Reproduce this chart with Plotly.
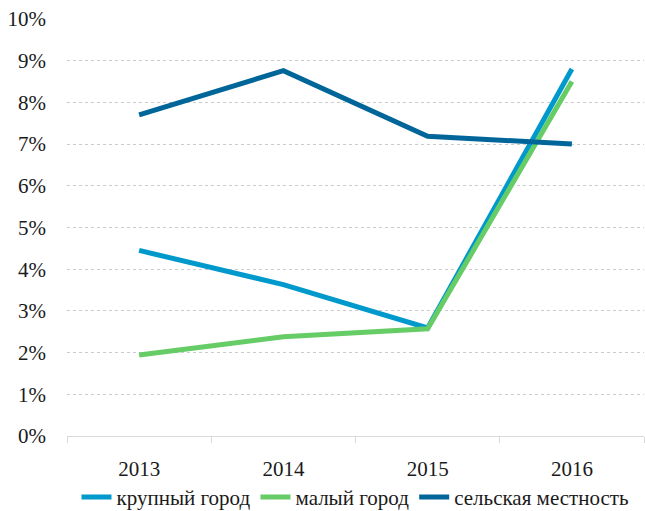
import plotly.graph_objects as go

# Share of respondents by settlement type, 2013-2016 (percent)
years = ["2013", "2014", "2015", "2016"]
large_city = [4.45, 3.63, 2.59, 8.80]
small_city = [1.94, 2.38, 2.57, 8.50]
rural = [7.70, 8.76, 7.19, 7.00]

series_names = ["крупный город", "малый город", "сельская местность"]
series_colors = ["#0099CC", "#66CC66", "#006699"]
y_ticks = list(range(0, 11))
y_tick_labels = [f"{v}%" for v in y_ticks]

TEXT_FONT = dict(family="Liberation Serif", size=21, color="#1a1a1a")

fig = go.Figure()
for name, vals, color in zip(series_names, [large_city, small_city, rural], series_colors):
    fig.add_trace(go.Scatter(
        x=years, y=vals, name=name, mode="lines",
        line=dict(color=color, width=5),
    ))

fig.update_layout(
    width=645, height=511,
    margin=dict(l=67, r=1, t=19, b=75, autoexpand=False),
    paper_bgcolor="white", plot_bgcolor="white",
    font=TEXT_FONT,
    showlegend=True,
    legend=dict(
        orientation="h", x=0.5, xanchor="center", y=-0.147, yanchor="middle",
        font=TEXT_FONT,
        itemwidth=30, tracegroupgap=0, bgcolor="rgba(0,0,0,0)",
    ),
    xaxis=dict(
        type="category", range=[-0.5, 3.5], showgrid=False, zeroline=False,
        showline=True, linecolor="#d9d9d9", linewidth=1,
        ticks="outside", tickson="boundaries", ticklen=6, tickcolor="#d9d9d9",
        ticklabelstandoff=14, tickfont=TEXT_FONT,
    ),
    yaxis=dict(
        range=[0, 10], tickvals=y_ticks, ticktext=y_tick_labels,
        showgrid=True, gridcolor="#cccccc", gridwidth=1, griddash="dot",
        zeroline=False, showline=False, ticks="",
        ticklabelstandoff=20, tickfont=TEXT_FONT,
    ),
)

fig.write_html("out.html")
